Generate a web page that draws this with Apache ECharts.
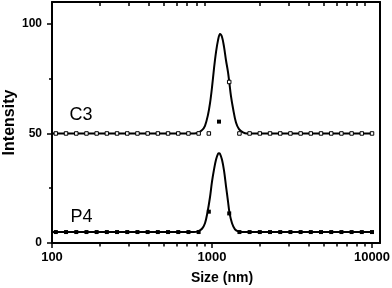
<!DOCTYPE html>
<html><head><meta charset="utf-8">
<script src="https://cdn.jsdelivr.net/npm/echarts@6/dist/echarts.min.js"></script>
<style>html,body{margin:0;padding:0;background:#fff}#c{width:392px;height:288px}</style>
</head><body><div id="c"></div>
<script>
// Measured size bins (nm)
const sizeBins = [105.7,122.4,141.8,164.2,190.1,220.2,255.0,295.3,342.0,396.1,458.7,531.2,615.1,712.4,825.0,955.4,1106,1281,1484,1718,1990,2305,2669,3091,3580,4145,4801,5560,6439,7456,8635,10000];
// Measured intensities (offset for display)
const c3Points = [50,50,50,50,50,50,50,50,50,50,50,50,50,50,50,50,null,73.5,50,50,50,50,50,50,50,50,50,50,50,50,50,50];
const p4Points = [5,5,5,5,5,5,5,5,5,5,5,5,5,5,5,14.3,55.4,13.5,5,5,5,5,5,5,5,5,5,5,5,5,5,5];
// Fitted curves
const c3CurveSizes  = [100,772,818,866,904,944,972,1000,1029,1059,1090,1122,1155,1189,1223,1259,1282,1314,1353,1412,1475,1562,1655,10000];
const c3CurveValues = [50,50,50.3,51.5,53.5,58.5,63.8,71,79.6,87,92.5,95.4,94,89.5,83.4,78,73.5,67,61.5,55,52,50.5,50,50];
const p4CurveSizes  = [100,772,818,866,904,937,972,1000,1029,1059,1090,1106,1122,1155,1189,1223,1259,1285,1334,1392,1454,1540,10000];
const p4CurveValues = [5,5,5.3,6.5,9,14,21,28,33.5,38,40.7,41,40.7,38,33,26,19,14,9,6.2,5.3,5,5];
// Axis ticks
const xMajorTicks = [100,1000,10000];
const xMinorTicks = [200,300,400,500,600,700,800,900,2000,3000,4000,5000,6000,7000,8000,9000];
const yMajorTicks = [0,50,100];
const yMinorTicks = [25,75];
const seriesNames = ['C3','P4'];

const FONT = 'Liberation Sans, Arial, sans-serif';
const zip = (a,b) => a.map((v,i)=>[v,b[i]]);
const X_MIN = 100, X_MAX = 11220, Y_MIN = 0, Y_MAX = 110;
const black = '#000';
const gridRect = {left:52, right:12, top:2, bottom:45, containLabel:false, outerBoundsMode:'none'};

const chart = echarts.init(document.getElementById('c'), null, {renderer:'canvas'});
const hiddenLine = () => ({show:false});
const noSplit = () => ({show:false});
chart.setOption({
  animation:false,
  backgroundColor:'#fff',
  grid:[Object.assign({}, gridRect), Object.assign({}, gridRect)],
  xAxis:[
    {gridIndex:0, type:'log', logBase:10, min:X_MIN, max:X_MAX, position:'bottom',
     axisLine:{show:true, onZero:false, lineStyle:{color:black, width:2}},
     axisTick:{show:true, inside:false, length:5, customValues:xMajorTicks, lineStyle:{color:black, width:1.5}},
     axisLabel:{show:true, customValues:xMajorTicks, margin:8, color:black, fontFamily:FONT, fontWeight:'bold', fontSize:13,
       formatter:v=>String(Math.round(v))},
     splitLine:noSplit(), minorTick:{show:false},
     name:'Size (nm)', nameLocation:'middle', nameGap:28, nameMoveOverlap:false,
     nameTextStyle:{color:black, fontFamily:FONT, fontWeight:'bold', fontSize:14, padding:[0,0,0,12]}},
    {gridIndex:0, type:'log', logBase:10, min:X_MIN, max:X_MAX, position:'top',
     axisLine:{show:true, onZero:false, lineStyle:{color:black, width:2}},
     axisTick:{show:true, inside:true, length:4, customValues:xMinorTicks, lineStyle:{color:black, width:1.5}},
     axisLabel:{show:false}, splitLine:noSplit()},
    {gridIndex:1, type:'log', logBase:10, min:X_MIN, max:X_MAX, position:'bottom',
     axisLine:hiddenLine(),
     axisTick:{show:true, inside:false, length:3.5, customValues:xMinorTicks, lineStyle:{color:black, width:1.5}},
     axisLabel:{show:false}, splitLine:noSplit()},
    {gridIndex:1, type:'log', logBase:10, min:X_MIN, max:X_MAX, position:'top',
     axisLine:hiddenLine(),
     axisTick:{show:true, inside:true, length:5, customValues:[1000], lineStyle:{color:black, width:1.5}},
     axisLabel:{show:false}, splitLine:noSplit()}
  ],
  yAxis:[
    {gridIndex:0, type:'value', min:Y_MIN, max:Y_MAX, position:'left',
     axisLine:{show:true, onZero:false, lineStyle:{color:black, width:2}},
     axisTick:{show:true, inside:false, length:5, customValues:yMajorTicks, lineStyle:{color:black, width:1.5}},
     axisLabel:{show:true, customValues:yMajorTicks, margin:10, color:black, fontFamily:FONT, fontWeight:'bold', fontSize:12},
     splitLine:noSplit(),
     name:'Intensity', nameLocation:'middle', nameGap:34, nameRotate:90, nameMoveOverlap:false,
     nameTextStyle:{color:black, fontFamily:FONT, fontWeight:'bold', fontSize:16}},
    {gridIndex:0, type:'value', min:Y_MIN, max:Y_MAX, position:'right',
     axisLine:{show:true, onZero:false, lineStyle:{color:black, width:2}},
     axisTick:{show:false}, axisLabel:{show:false}, splitLine:noSplit()},
    {gridIndex:1, type:'value', min:Y_MIN, max:Y_MAX, position:'left',
     axisLine:hiddenLine(),
     axisTick:{show:true, inside:false, length:3, customValues:yMinorTicks, lineStyle:{color:black, width:1.5}},
     axisLabel:{show:false}, splitLine:noSplit()},
    {gridIndex:1, type:'value', min:Y_MIN, max:Y_MAX, position:'right',
     axisLine:hiddenLine(), axisTick:{show:false}, axisLabel:{show:false}, splitLine:noSplit()}
  ],
  series:[
    {name:seriesNames[0]+' fit', type:'line', xAxisIndex:0, yAxisIndex:0, data:zip(c3CurveSizes,c3CurveValues),
     smooth:0.35, showSymbol:false, lineStyle:{color:black, width:2}, z:2, silent:true},
    {name:seriesNames[1]+' fit', type:'line', xAxisIndex:0, yAxisIndex:0, data:zip(p4CurveSizes,p4CurveValues),
     smooth:0.35, showSymbol:false, lineStyle:{color:black, width:2}, z:2, silent:true},
    {name:seriesNames[0], type:'scatter', xAxisIndex:0, yAxisIndex:0, data:zip(sizeBins,c3Points),
     symbol:'rect', symbolSize:3.5, itemStyle:{color:'#fff', borderColor:black, borderWidth:1, opacity:1}, z:3,
     markPoint:{symbol:'rect', symbolSize:1, itemStyle:{color:'rgba(0,0,0,0)'},
       label:{show:true, position:'inside', formatter:seriesNames[0], color:black, fontFamily:FONT, fontSize:18},
       data:[{coord:[152, 58.4]}]}},
    {name:seriesNames[1], type:'scatter', xAxisIndex:0, yAxisIndex:0, data:zip(sizeBins,p4Points),
     symbol:'rect', symbolSize:4, itemStyle:{color:black, opacity:1}, z:3,
     markPoint:{symbol:'rect', symbolSize:1, itemStyle:{color:'rgba(0,0,0,0)'},
       label:{show:true, position:'inside', formatter:seriesNames[1], color:black, fontFamily:FONT, fontSize:18},
       data:[{coord:[153, 12]}]}}
  ]
});
</script></body></html>
